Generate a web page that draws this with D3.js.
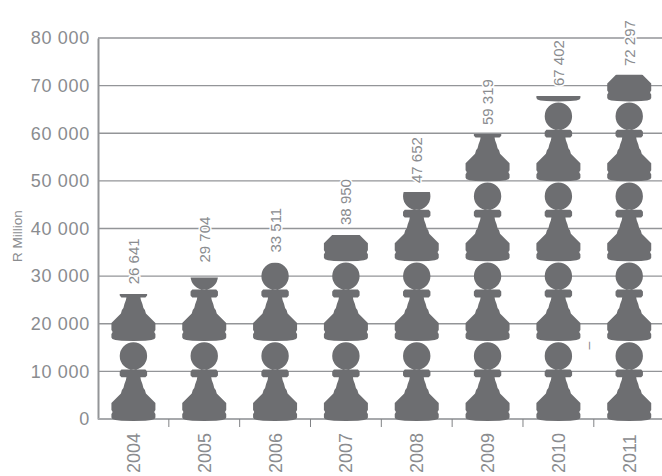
<!DOCTYPE html>
<html>
<head>
<meta charset="utf-8">
<script src="https://d3js.org/d3.v7.min.js"></script>
<style>
  html, body { margin: 0; padding: 0; background: #fff; }
  text { font-family: "Liberation Sans", sans-serif; fill: #8a8c8f; }
  .grid line { stroke: #939598; stroke-width: 1.4; }
</style>
</head>
<body>
<div id="chart"></div>
<script>
const years = ['2004', '2005', '2006', '2007', '2008', '2009', '2010', '2011'];
// column heights as drawn in the picture, these differ a little from the printed figures
const values = [26250, 29704, 32850, 38640, 47652, 59840, 67820, 72297];
const valueLabels = ['26 641', '29 704', '33 511', '38 950', '47 652', '59 319', '67 402', '72 297'];
const yTicks = [0, 10000, 20000, 30000, 40000, 50000, 60000, 70000, 80000];

const width = 662, height = 476;
const margin = { top: 38, right: 0, bottom: 57, left: 98 };
const innerHeight = height - margin.top - margin.bottom;
const bandStep = 70.83;
// the figures were placed by hand, this is the gap under each one
const labelGaps = [9.7, 15, 10, 10, 9, 9, 10, 8.7];

const svg = d3.select('#chart').append('svg')
  .attr('width', width).attr('height', height)
  .style('display', 'block');

const x = d3.scaleBand().domain(years).range([0, bandStep * years.length]).padding(0);
const y = d3.scaleLinear().domain([0, 80000]).range([innerHeight, 0]);

const frame = svg.append('g').attr('transform', `translate(${margin.left},${margin.top})`);

// one pawn stands this tall in axis units, the columns are stacks of them
const pawnUnits = 16777;

// pawn outline, half width against height up from its foot
const outline = [[0, 0], [12, 0.3], [18, 1], [21, 2], [22, 3.5], [22, 7], [21, 8.5], [21, 9.5], [22, 11], [22, 18],
  [18, 22], [14, 26], [12.5, 27.5], [11.5, 31], [10, 33], [9, 37], [7.5, 41], [7, 43.7]];
const collar = [[7, 43.7], [12, 43.7], [13.7, 45.5], [13.7, 49.5], [12, 51.5], [7, 51.5]];

function pawnPath() {
  const pts = outline.concat(collar.slice(1));
  const p = d3.path();
  p.moveTo(pts[0][0], -pts[0][1]);
  pts.forEach(d => p.lineTo(d[0], -d[1]));
  pts.slice().reverse().forEach(d => p.lineTo(-d[0], -d[1]));
  p.closePath();
  p.moveTo(13.7, -65);
  p.arc(0, -65, 13.7, 0, 2 * Math.PI);
  return p.toString();
}

const defs = svg.append('defs');
defs.append('path').attr('id', 'pawn').attr('d', pawnPath());
years.forEach((yr, i) => {
  defs.append('clipPath').attr('id', 'clip' + yr)
    .append('rect')
    .attr('x', x(yr)).attr('width', x.bandwidth())
    .attr('y', y(values[i])).attr('height', y(0) - y(values[i]) + 4);
});

// grid
const grid = frame.append('g').attr('class', 'grid');
grid.selectAll('line').data(yTicks).join('line')
  .attr('x1', 0).attr('x2', width - margin.left)
  .attr('y1', d => y(d)).attr('y2', d => y(d));

// left axis and its labels
const yAxis = frame.append('g').call(d3.axisLeft(y).tickValues(yTicks).tickSize(0).tickPadding(8)
  .tickFormat(d => d3.format(',')(d).replace(',', ' ')));
yAxis.select('.domain').attr('stroke', '#939598').attr('stroke-width', 2);
yAxis.selectAll('text').style('font-size', '18px').style('letter-spacing', '0.7px').style('fill', '#8a8c8f');

// bottom axis
frame.append('line').attr('x1', 0).attr('x2', width - margin.left)
  .attr('y1', y(0)).attr('y2', y(0)).attr('stroke', '#a7a9ac').attr('stroke-width', 2);
frame.append('g').selectAll('line').data(years.slice(1)).join('line')
  .attr('x1', d => x(d)).attr('x2', d => x(d))
  .attr('y1', y(0)).attr('y2', y(0) + 8)
  .attr('stroke', '#808285').attr('stroke-width', 1);

// pawns
years.forEach((yr, i) => {
  const n = Math.ceil(values[i] / pawnUnits);
  frame.append('g').attr('clip-path', `url(#clip${yr})`)
    .selectAll('use').data(d3.range(n)).join('use')
    .attr('href', '#pawn')
    .attr('fill', '#6d6e71')
    .attr('transform', k => `translate(${x(yr) + x.bandwidth() / 2},${y(k * pawnUnits) + 2})`);
});

frame.append('g').selectAll('text').data(years).join('text')
  .attr('transform', d => `translate(${x(d) + x.bandwidth() / 2 + 6.5},${y(0) + 54}) rotate(-90)`)
  .style('font-size', '18px')
  .text(d => d);

// value labels, the white halo breaks the grid lines behind them
frame.append('g').selectAll('text').data(years).join('text')
  .attr('transform', (d, i) => `translate(${x(d) + x.bandwidth() / 2 + 5.5},${y(values[i]) - labelGaps[i]}) rotate(-90)`)
  .style('font-size', '15px')
  .style('paint-order', 'stroke')
  .style('stroke', '#fff')
  .style('stroke-width', 3)
  .text((d, i) => valueLabels[i]);

// stray dash sitting between the last two columns in the original
frame.append('text')
  .attr('transform', `translate(${x('2011') - 0.5},${y(14600)}) rotate(-90)`)
  .style('font-size', '14px')
  .text('–');

// axis title
svg.append('text')
  .attr('transform', 'translate(22,262) rotate(-90)')
  .style('font-size', '13.5px')
  .text('R Million');
</script>
</body>
</html>
